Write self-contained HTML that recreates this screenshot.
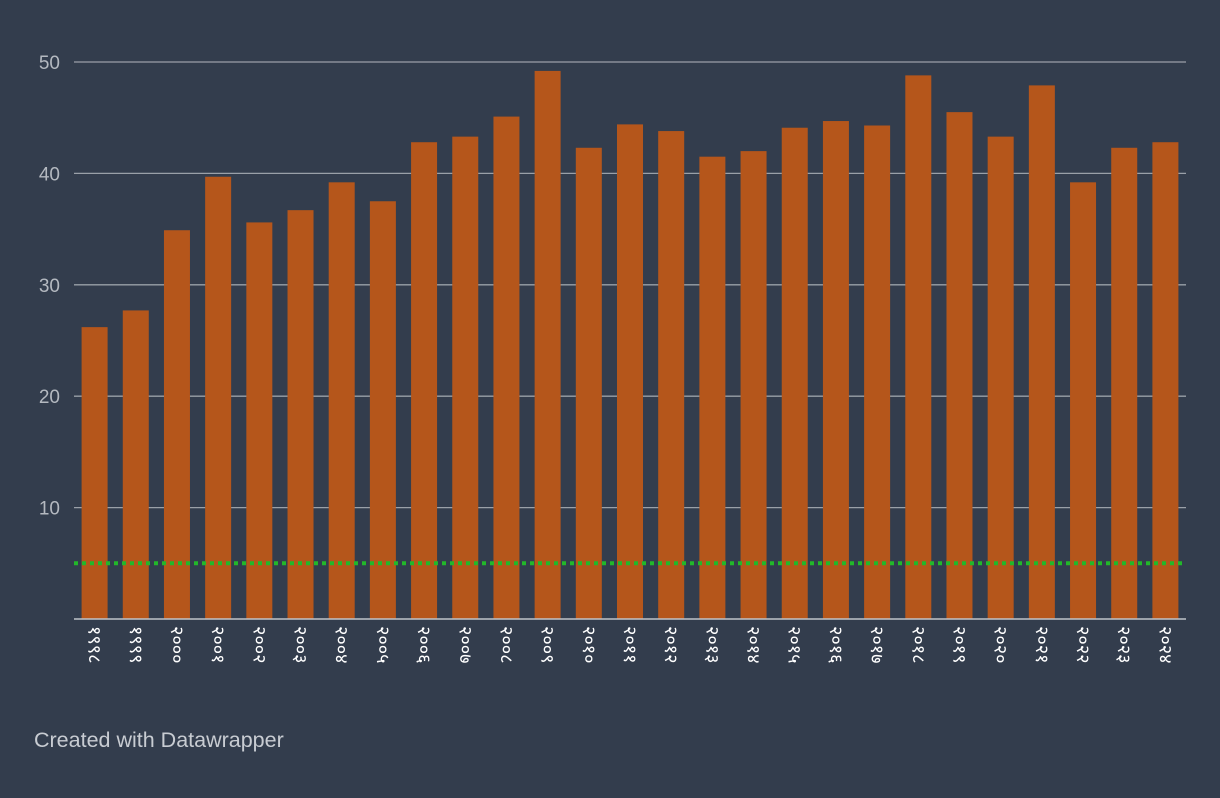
<!DOCTYPE html>
<html><head><meta charset="utf-8">
<style>
html,body{margin:0;padding:0;background:#333d4d;width:1220px;height:798px;overflow:hidden;}
body{font-family:"Liberation Sans",sans-serif;position:relative;}
svg{display:block;}
</style></head>
<body>
<svg id="chart" width="1220" height="798" xmlns="http://www.w3.org/2000/svg"></svg>
<div style="position:absolute;left:34px;top:728px;font-size:21.5px;color:#c8ccd2;">Created with Datawrapper</div>
<script>
const years=[1998,1999,2000,2001,2002,2003,2004,2005,2006,2007,2008,2009,2010,2011,2012,2013,2014,2015,2016,2017,2018,2019,2020,2021,2022,2023,2024];
const values=[26.2,27.7,34.9,39.7,35.6,36.7,39.2,37.5,42.8,43.3,45.1,49.2,42.3,44.4,43.8,41.5,42.0,44.1,44.7,44.3,48.8,45.5,43.3,47.9,39.2,42.3,42.8];
const yTicks=[10,20,30,40,50];
const refValue=5;
const NS="http://www.w3.org/2000/svg";
const svg=document.getElementById('chart');
const x0=74,x1=1186,y0=619,yTop=62,yMax=50;
const band=(x1-x0)/years.length, bw=26;
const yS=v=>y0-(v/yMax)*(y0-yTop);
const xS=i=>x0+band*i+(band-bw)/2;
const deva=n=>String(n).replace(/[0-9]/g,d=>String.fromCharCode(0x966+ +d));
function mk(t,a){const e=document.createElementNS(NS,t);for(const k in a)e.setAttribute(k,a[k]);svg.appendChild(e);return e;}
yTicks.forEach(t=>{
  const l=mk('line',{x1:x0,x2:x1,y1:yS(t),y2:yS(t),stroke:'#9aa0a8','stroke-width':1.3});
  
  
  const tx=mk('text',{x:60,y:yS(t)+7,'text-anchor':'end','font-size':19,fill:'#b4b9c0'});
  tx.textContent=t;
  
  
});
values.forEach((v,i)=>{
  const r=mk('rect',{x:xS(i),y:yS(v),width:bw,height:y0-yS(v),fill:'#b5561b'});
  
  
  const cx=xS(i)+bw/2;
  const t=mk('text',{x:0,y:0,'font-size':18,fill:'#ffffff',transform:`translate(${cx-6},626) rotate(90)`});
  t.textContent=deva(years[i]);
  
  
});
const base=mk('line',{x1:x0,x2:x1,y1:y0,y2:y0,stroke:'#c0c4ca','stroke-width':1.5});


const ref=mk('line',{x1:x0,x2:x1,y1:yS(refValue),y2:yS(refValue),stroke:'#22b82a','stroke-width':4,'stroke-dasharray':'4 4'});


</script>
</body></html>
